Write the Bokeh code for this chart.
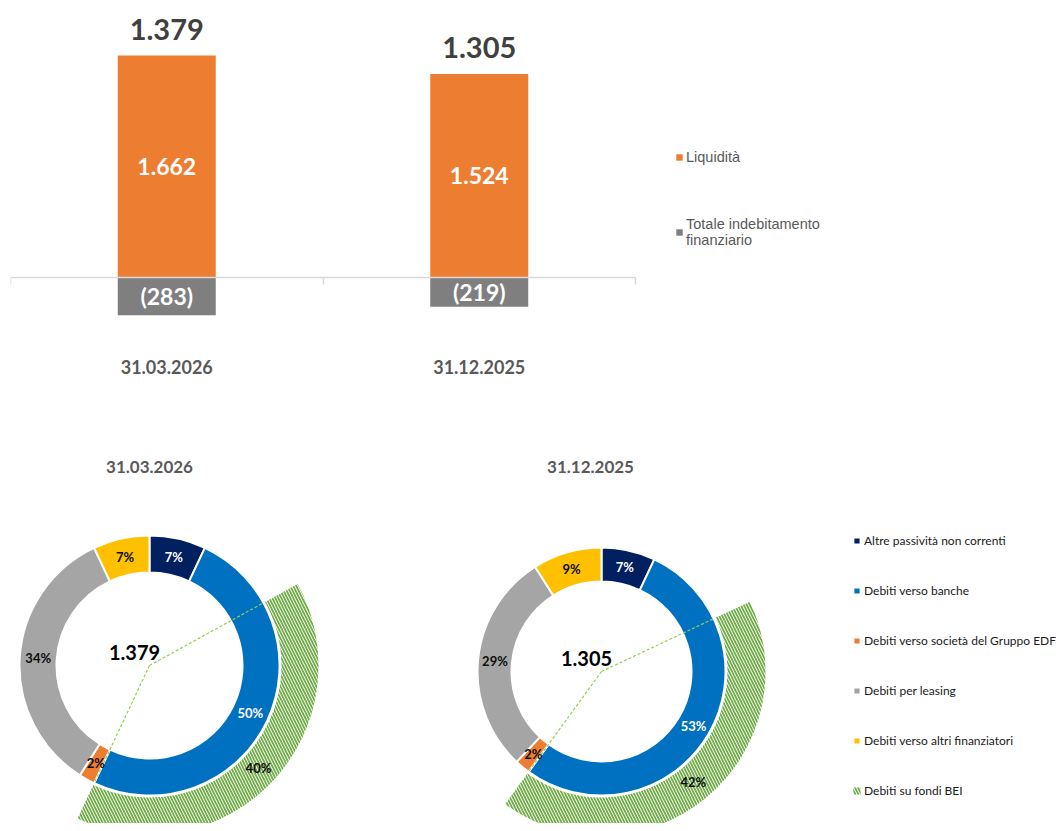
import math
from bokeh.plotting import figure
from bokeh.models import (Range1d, FixedTicker, LinearAxis, Legend, LegendItem,
                          ColumnDataSource, Label)
from bokeh.layouts import column, row
from bokeh.embed import file_html
from bokeh.resources import INLINE
from bokeh.core.properties import value

# ---------------- data ----------------
periods = ["31.03.2026", "31.12.2025"]
liquidity = [1662, 1524]
total_debt = [283, 219]

debt_categories = ["Altre passività non correnti", "Debiti verso banche",
                   "Debiti verso società del Gruppo EDF", "Debiti per leasing",
                   "Debiti verso altri finanziatori"]
share_2026 = [7, 50, 2, 34, 7]
share_2025 = [7, 53, 2, 29, 9]
bei_label = "Debiti su fondi BEI"
bei_share = [40, 42]
donut_totals = [1379, 1305]

# ---------------- styles ----------------
FONT = "Lato"
ORANGE = "#ED7D31"
GREY_BAR = "#7F7F7F"
debt_colors = ["#002060", "#0070C0", "#ED7D31", "#A5A5A5", "#FFC000"]
label_colors = ["white", "white", "#0D0D0D", "#0D0D0D", "#0D0D0D"]
GREEN = "#70AD47"


def fmt(v):
    return f"{v:,}".replace(",", ".")


# ---------------- bar chart ----------------
x_pos = [i + 0.5 for i in range(len(periods))]
bar_src = ColumnDataSource(dict(
    x=x_pos,
    liq=liquidity,
    neg=[-d for d in total_debt],
    liq_mid=[v / 2 for v in liquidity],
    neg_mid=[-d / 2 for d in total_debt],
    liq_lbl=[fmt(v) for v in liquidity],
    neg_lbl=[f"({fmt(d)})" for d in total_debt],
    net_lbl=[fmt(l - d) for l, d in zip(liquidity, total_debt)],
))

FRAME_W = 1041
CAT_PX = 312.5
p = figure(width=1051, height=418,
           x_range=Range1d(0, FRAME_W / CAT_PX), y_range=Range1d(-561, 2014),
           x_axis_type=None, y_axis_type=None, toolbar_location=None,
           output_backend="svg", title=None,
           min_border_left=10, min_border_right=0, min_border_top=8,
           min_border_bottom=66)
p.outline_line_color = None

r_liq = p.vbar(x="x", top="liq", bottom=0, width=98 / CAT_PX, fill_color=ORANGE,
               line_color=None, source=bar_src)
r_debt = p.vbar(x="x", top=0, bottom="neg", width=98 / CAT_PX, fill_color=GREY_BAR,
                line_color=None, source=bar_src)

p.text(x="x", y="liq", text="net_lbl", source=bar_src, text_align="center",
       text_baseline="middle", y_offset=-26, text_font=value(FONT),
       text_font_style="bold", text_font_size="29px", text_color="#404040")
p.text(x="x", y="liq_mid", text="liq_lbl", source=bar_src, text_align="center",
       text_baseline="middle", text_font=value(FONT), text_font_style="bold",
       text_font_size="23px", text_color="white")
p.text(x="x", y="neg_mid", text="neg_lbl", source=bar_src, text_align="center",
       text_baseline="middle", text_font=value(FONT), text_font_style="bold",
       text_font_size="23px", text_color="white")

# category labels axis
lab_axis = LinearAxis(ticker=FixedTicker(ticks=x_pos),
                      major_label_overrides={x: s for x, s in zip(x_pos, periods)})
lab_axis.axis_line_color = None
lab_axis.major_tick_line_color = None
lab_axis.minor_tick_line_color = None
lab_axis.major_tick_out = 0
lab_axis.major_tick_in = 0
lab_axis.major_label_standoff = 7
lab_axis.major_label_text_font = FONT
lab_axis.major_label_text_font_style = "bold"
lab_axis.major_label_text_font_size = "18px"
lab_axis.major_label_text_color = "#595959"
p.add_layout(lab_axis, "below")

# zero line with category separators
bounds = list(range(len(periods) + 1))
zero_axis = LinearAxis(ticker=FixedTicker(ticks=bounds), fixed_location=0,
                       bounds=(0, len(periods)),
                       major_label_overrides={b: "" for b in bounds})
zero_axis.axis_line_color = "#D9D9D9"
zero_axis.axis_line_width = 1.5
zero_axis.major_tick_line_color = "#D9D9D9"
zero_axis.major_tick_line_width = 1.5
zero_axis.major_tick_out = 7
zero_axis.major_tick_in = 0
zero_axis.minor_tick_line_color = None
zero_axis.major_label_text_font_size = "1px"
p.add_layout(zero_axis, "below")

bar_legend = Legend(items=[
    LegendItem(label="Liquidità", renderers=[r_liq]),
    LegendItem(label="Totale indebitamento\nfinanziario", renderers=[r_debt]),
], location=(665, 104), glyph_width=8, glyph_height=8, label_height=16,
    label_standoff=3, padding=0, margin=0, spacing=51,
    border_line_color=None, background_fill_alpha=0,
    label_text_font="Liberation Sans", label_text_font_size="14.5px",
    label_text_color="#595959")
p.add_layout(bar_legend)


# ---------------- donut charts ----------------
H2 = 405


def donut(shares, bei, total, title, width, cx, cy, r_in, r_out, r_bei,
          title_dx, legend=False):
    d = figure(width=width, height=H2,
               x_range=Range1d(-cx, width - cx), y_range=Range1d(-(H2 - cy), cy),
               x_axis_type=None, y_axis_type=None, toolbar_location=None,
               output_backend="svg", title=None, min_border=0)
    d.outline_line_color = None

    starts, ends = [], []
    c = 0
    for s in shares:
        ends.append(math.pi / 2 - 2 * math.pi * c / 100)
        c += s
        starts.append(math.pi / 2 - 2 * math.pi * c / 100)
    mids = [(a + b) / 2 for a, b in zip(starts, ends)]
    rm = (r_in + r_out) / 2
    src = ColumnDataSource(dict(
        cat=debt_categories, share=shares, start=starts, end=ends, color=debt_colors,
        lx=[rm * math.cos(m) for m in mids], ly=[rm * math.sin(m) for m in mids],
        lbl=[f"{s}%" for s in shares], lcol=label_colors))
    wedge = d.annular_wedge(x=0, y=0, inner_radius=r_in, outer_radius=r_out,
                            start_angle="start", end_angle="end", fill_color="color",
                            line_color="white", line_width=2, source=src)

    bank_end = sum(shares[:2])
    b_start = math.pi / 2 - 2 * math.pi * bank_end / 100
    b_end = math.pi / 2 - 2 * math.pi * (bank_end - bei) / 100
    b_mid = (b_start + b_end) / 2
    rb = (r_out + r_bei) / 2
    bei_src = ColumnDataSource(dict(start=[b_start], end=[b_end],
                                    lx=[rb * math.cos(b_mid)], ly=[rb * math.sin(b_mid)],
                                    lbl=[f"{bei}%"]))
    bei_r = d.annular_wedge(x=0, y=0, inner_radius=r_out + 2, outer_radius=r_bei,
                            start_angle="start", end_angle="end", fill_color=None,
                            line_color=None, hatch_pattern="\\", hatch_color=GREEN,
                            hatch_scale=6, hatch_weight=1.8, source=bei_src)
    seg_src = ColumnDataSource(dict(
        x1=[r_out * math.cos(a) for a in (b_start, b_end)],
        y1=[r_out * math.sin(a) for a in (b_start, b_end)]))
    d.segment(x0=0, y0=0, x1="x1", y1="y1", line_color="#92D050", line_dash="3 2",
              line_width=1.2, source=seg_src)

    d.text(x="lx", y="ly", text="lbl", text_color="lcol", source=src,
           text_align="center", text_baseline="middle", text_font=value(FONT),
           text_font_style="bold", text_font_size="13px")
    d.text(x="lx", y="ly", text="lbl", text_color="#0D0D0D", source=bei_src,
           text_align="center", text_baseline="middle", text_font=value(FONT),
           text_font_style="bold", text_font_size="13px")
    d.text(x=[0], y=[0], text=[fmt(total)], x_offset=-15, y_offset=-13,
           text_align="center", text_baseline="middle", text_font=value(FONT),
           text_font_style="bold", text_font_size="20px", text_color="black")

    d.add_layout(Label(x=title_dx, y=cy - 48, text=title, text_align="center",
                       text_baseline="middle", text_font=FONT, text_font_style="bold",
                       text_font_size="17px", text_color="#595959"))

    if legend:
        items = [LegendItem(label=cat, renderers=[wedge], index=i)
                 for i, cat in enumerate(debt_categories)]
        items.append(LegendItem(label=bei_label, renderers=[bei_r]))
        lg = Legend(items=items, location=(432, 23), glyph_width=9, glyph_height=9,
                    label_height=20, spacing=30, padding=0, margin=0, label_standoff=3,
                    border_line_color=None, background_fill_alpha=0,
                    label_text_font=FONT, label_text_font_size="12px",
                    label_text_color="#1A1A1A")
        d.add_layout(lg)
    return d


d1 = donut(share_2026, bei_share[0], donut_totals[0], periods[0], 420,
           149, 247, 93, 130, 169, 0)
d2 = donut(share_2025, bei_share[1], donut_totals[1], periods[1], 639,
           181, 253, 90, 124, 164, -11, legend=True)

layout = column(p, row(d1, d2))
open("out.html", "w").write(file_html(layout, INLINE))
